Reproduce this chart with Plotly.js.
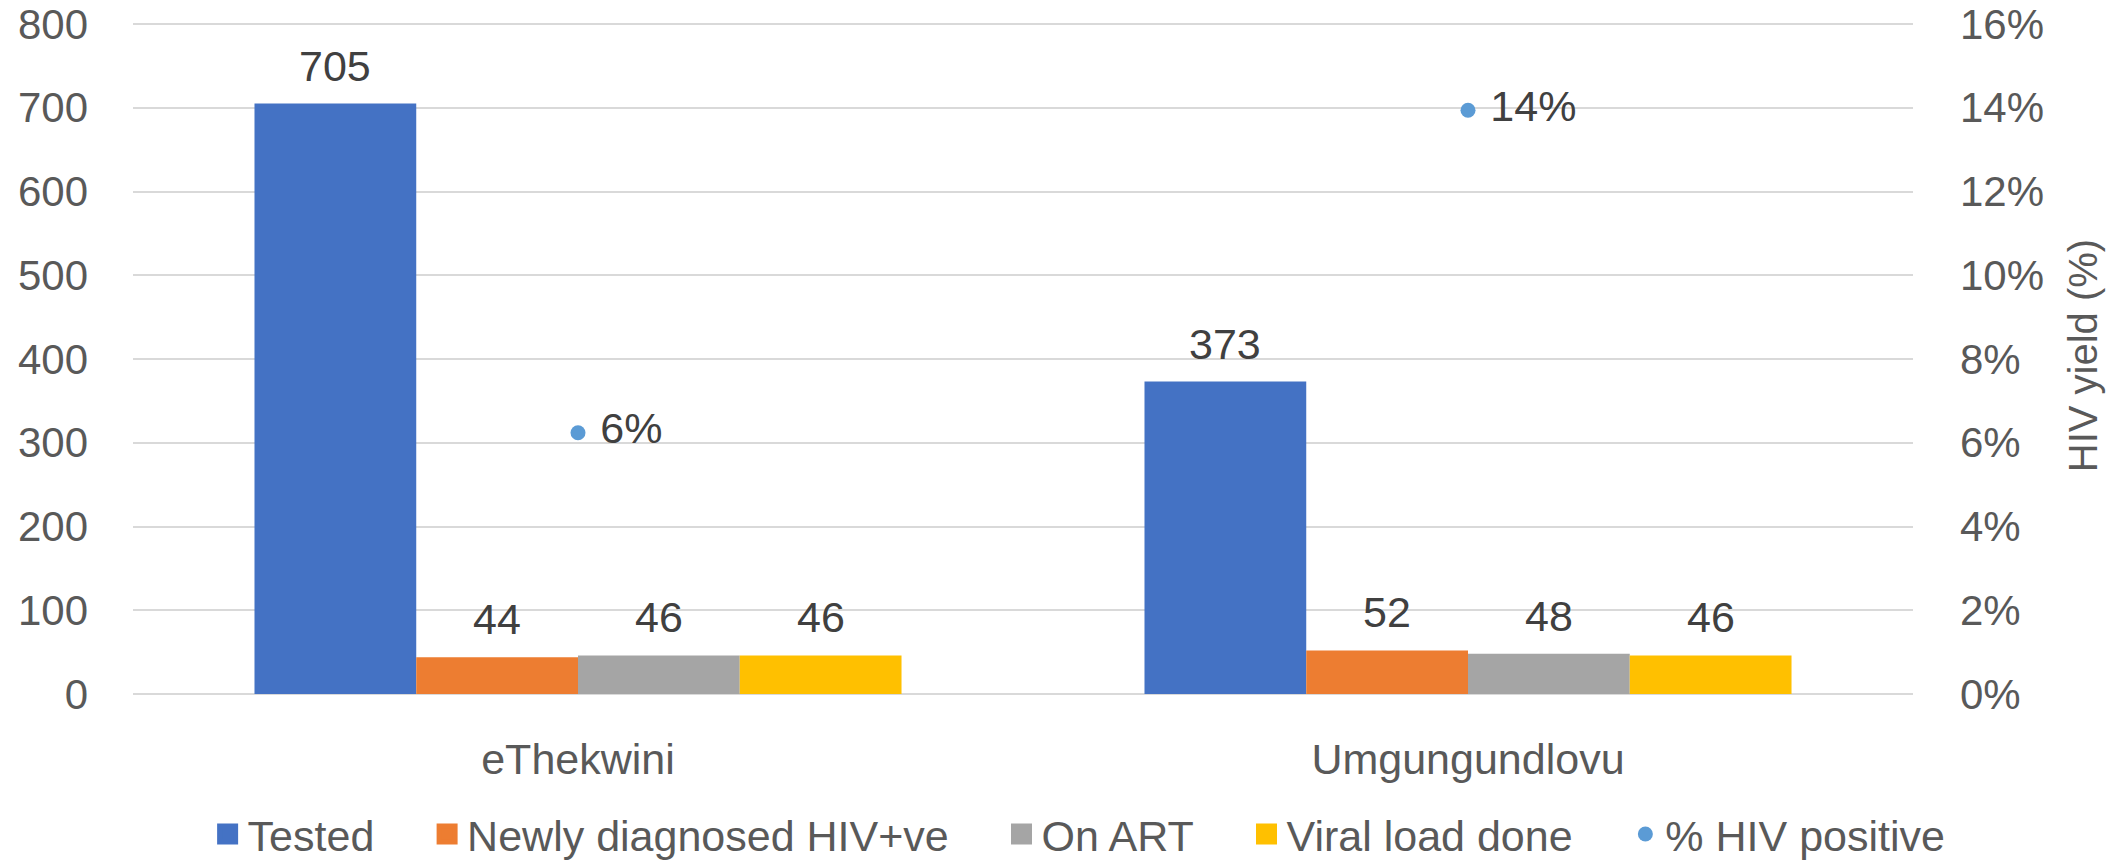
<!DOCTYPE html>
<html>
<head>
<meta charset="utf-8">
<script src="https://cdn.plot.ly/plotly-3.0.1.min.js"></script>
<style>
html, body { margin: 0; padding: 0; background: #ffffff; }
#chart { width: 2118px; height: 860px; }
</style>
</head>
<body>
<div id="chart"></div>
<script>
// ---- data ----
const categories = ['eThekwini', 'Umgungundlovu'];
const tested = [705, 373];
const newlyDiagnosed = [44, 52];
const onART = [46, 48];
const viralLoadDone = [46, 46];
const hivPositivePct = [0.0624, 0.1394];
const seriesNames = ['Tested', 'Newly diagnosed HIV+ve', 'On ART', 'Viral load done', '% HIV positive'];
const leftTicks = [0, 100, 200, 300, 400, 500, 600, 700, 800];
const rightTicks = [0, 0.02, 0.04, 0.06, 0.08, 0.10, 0.12, 0.14, 0.16];
const rightAxisTitle = 'HIV yield (%)';

// ---- style ----
const W = 2118, H = 860;
const PX_PER_UNIT = 670 / 800;       // 0..800 spans 670 px as in the reference
const M = { l: 133, r: 205, t: 17, b: 166, autoexpand: false };
const Y_MAX = (H - M.t - M.b) / PX_PER_UNIT;   // a little headroom above 800 so its gridline is kept
const Y2_MAX = 0.16 * Y_MAX / 800;              // keep both axes aligned
const BARGAP = 0.273;
const barColors = ['#4472C4', '#ED7D31', '#A5A5A5', '#FFC000'];
const dotColor = '#5B9BD5';
const FONT = '"Liberation Sans", Arial, sans-serif';
const TICKFONT = '"Liberation Sans", Arial, sans-serif';
const axisTextColor = '#595959';
const labelColor = '#404040';
const gridColor = '#D9D9D9';
const FS = 43;
const LEGEND_PAD = '\u00a0'.repeat(4);

const barSeries = [tested, newlyDiagnosed, onART, viralLoadDone];

// bars (legend entries drawn by legend-only proxies below for bigger squares)
const traces = barSeries.map((vals, i) => ({
  type: 'bar',
  name: seriesNames[i],
  x: categories,
  y: vals,
  marker: { color: barColors[i], line: { width: 0 } },
  showlegend: false,
  hoverinfo: 'skip',
  cliponaxis: false
}));

// legend proxies: no data points, only a legend swatch
barSeries.forEach((vals, i) => {
  traces.push({
    type: 'scatter',
    mode: 'markers',
    name: seriesNames[i] + LEGEND_PAD,
    x: [null],
    y: [null],
    marker: { symbol: 'square', size: 16, color: barColors[i], line: { width: 5, color: barColors[i] } },
    hoverinfo: 'skip',
    showlegend: true
  });
});

traces.push({
  type: 'scatter',
  mode: 'markers+text',
  name: seriesNames[4],
  x: categories,
  y: hivPositivePct,
  yaxis: 'y2',
  marker: { color: dotColor, size: 15 },
  text: hivPositivePct.map(v => '\u00a0' + Math.round(v * 100) + '%'),
  textposition: 'middle right',
  textfont: { family: FONT, size: FS, color: labelColor },
  hoverinfo: 'skip',
  cliponaxis: false
});

// data labels above bars
const plotW = W - M.l - M.r;
const catPx = plotW / categories.length;
const barPx = catPx * (1 - BARGAP) / barSeries.length;
const annotations = [];
barSeries.forEach((vals, i) => {
  vals.forEach((v, j) => {
    annotations.push({
      x: categories[j], y: v, xref: 'x', yref: 'y',
      text: String(v), showarrow: false,
      xanchor: 'center', yanchor: 'bottom',
      xshift: (i - (barSeries.length - 1) / 2) * barPx,
      yshift: 12,
      font: { family: FONT, size: FS, color: labelColor }
    });
  });
});

const layout = {
  width: W, height: H,
  margin: M,
  paper_bgcolor: '#ffffff',
  plot_bgcolor: '#ffffff',
  barmode: 'group',
  bargap: BARGAP,
  bargroupgap: 0,
  showlegend: true,
  legend: {
    orientation: 'h',
    xref: 'container', yref: 'container',
    x: 0.5095, xanchor: 'center',
    y: 26 / 860, yanchor: 'middle',
    font: { family: FONT, size: FS, color: axisTextColor },
    traceorder: 'normal',
    itemwidth: 30
  },
  xaxis: {
    type: 'category',
    showline: false, ticks: '', showgrid: false, zeroline: false,
    tickfont: { family: FONT, size: FS, color: axisTextColor },
    ticklabelstandoff: 36,
    fixedrange: true
  },
  yaxis: {
    range: [0, Y_MAX],
    tickvals: leftTicks,
    showline: false, ticks: '',
    showgrid: true, gridcolor: gridColor, gridwidth: 2,
    zeroline: true, zerolinecolor: gridColor, zerolinewidth: 2,
    tickfont: { family: TICKFONT, size: 42, color: axisTextColor },
    ticklabelstandoff: 44,
    ticklabeloverflow: 'allow',
    fixedrange: true
  },
  yaxis2: {
    overlaying: 'y', side: 'right',
    range: [0, Y2_MAX],
    tickvals: rightTicks,
    tickformat: '.0%',
    showline: false, ticks: '', showgrid: false, zeroline: false,
    tickfont: { family: TICKFONT, size: 42, color: axisTextColor },
    ticklabelstandoff: 46,
    ticklabeloverflow: 'allow',
    title: { text: rightAxisTitle, font: { family: FONT, size: 40, color: axisTextColor }, standoff: 25 },
    fixedrange: true
  },
  annotations: annotations
};

Plotly.newPlot('chart', traces, layout, { displayModeBar: false, staticPlot: true });
</script>
</body>
</html>
